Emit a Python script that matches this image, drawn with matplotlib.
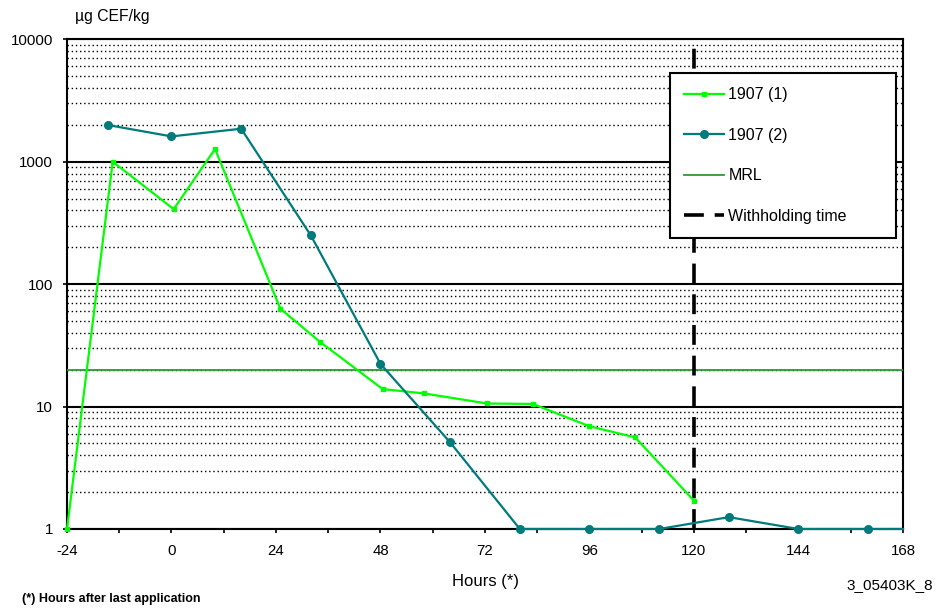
import numpy as np
import matplotlib
matplotlib.use("Agg")
from matplotlib import pyplot as plt
from matplotlib.ticker import FixedLocator, LogLocator, NullFormatter

plt.rcParams['font.family'] = ['Liberation Sans', 'DejaVu Sans']

# data
hours_1 = [-24, -13.5, 0.5, 10, 25, 34, 48.5, 58, 72.5, 83, 96, 106.5, 120]
cef_1 = [1, 1000, 410, 1270, 63, 34, 13.9, 12.8, 10.6, 10.5, 6.9, 5.6, 1.7]

hours_2 = [-14.5, 0, 16, 32, 48, 64, 80, 96, 112, 128, 144, 160, 168]
cef_2 = [1990, 1610, 1860, 250, 22.3, 5.1, 1, 1, 1, 1.25, 1, 1, 1]

mrl = 20
withholding = 120
x_ticks = list(range(-24, 169, 12))
x_labels = [str(t) if t % 24 == 0 else '' for t in x_ticks]
y_ticks = [1, 10, 100, 1000, 10000]

W, H = 937, 610
fig = plt.figure(figsize=(W / 100, H / 100), dpi=100)
ax = fig.add_axes([67 / W, 1 - 529 / H, (903 - 67) / W, (529 - 39.3) / H])

ax.set_yscale('log')
ax.set_xlim(-24, 168)
ax.set_ylim(1, 10000)

# grid: solid decades, dotted in between
ax.yaxis.set_minor_locator(LogLocator(base=10, subs=np.arange(2, 10)))
ax.yaxis.set_minor_formatter(NullFormatter())
ax.grid(which='major', axis='y', color='black', linewidth=1.5, linestyle='-')
ax.grid(which='minor', axis='y', color='black', linewidth=1.0, linestyle=(0, (1, 2)))
ax.set_axisbelow(True)

ax.plot(hours_1, cef_1, color='#00ff00', linewidth=1.6, marker='s', markersize=3,
        label='1907 (1)', clip_on=False, zorder=4)
ax.plot(hours_2, cef_2, color='#007b7b', linewidth=1.6, marker='o', markersize=5.5,
        markevery=list(range(len(hours_2) - 1)), label='1907 (2)', clip_on=False, zorder=4)
ax.axhline(mrl, color='#2e9a2e', linewidth=1.3, label='MRL', zorder=3)
ax.axvline(withholding, color='black', linewidth=2.6, linestyle=(0, (5.5, 3)),
           label='Withholding time', zorder=3)

ax.set_xticks(x_ticks)
ax.set_xticklabels(x_labels)
ax.yaxis.set_major_locator(FixedLocator(y_ticks))
ax.set_yticklabels([str(v) for v in y_ticks])
ax.tick_params(axis='y', which='minor', length=0)
ax.tick_params(axis='both', which='major', direction='out', length=3, width=1.2,
               labelsize=10.8, colors='black')
ax.tick_params(axis='x', pad=8)
ax.tick_params(axis='y', pad=7)
for s in ax.spines.values():
    s.set_linewidth(1.5)
    s.set_color('black')

leg = ax.legend(loc='upper left',
                bbox_to_anchor=(670 / W, 1 - 236 / H, 226 / W, 163 / H),
                bbox_transform=fig.transFigure, mode='expand', borderaxespad=0,
                fontsize=11.5, frameon=True, fancybox=False, framealpha=1,
                edgecolor='black', borderpad=0.9, labelspacing=1.6,
                handlelength=2.5, handletextpad=0.25)
leg.get_frame().set_linewidth(1.5)
leg.set_zorder(10)

fig.text(75 / W, 1 - 17 / H, 'µg CEF/kg', fontsize=11.3, ha='left', va='center')
fig.text(486 / W, 1 - 581.7 / H, 'Hours (*)', fontsize=12, ha='center', va='center')
fig.text(22 / W, 1 - 599 / H, '(*) Hours after last application', fontsize=9,
         ha='left', va='center', fontweight='bold')
fig.text(846 / W, 1 - 585 / H, '3_05403K_8', fontsize=11, ha='left', va='center')

fig.savefig('out.png', dpi=100)
